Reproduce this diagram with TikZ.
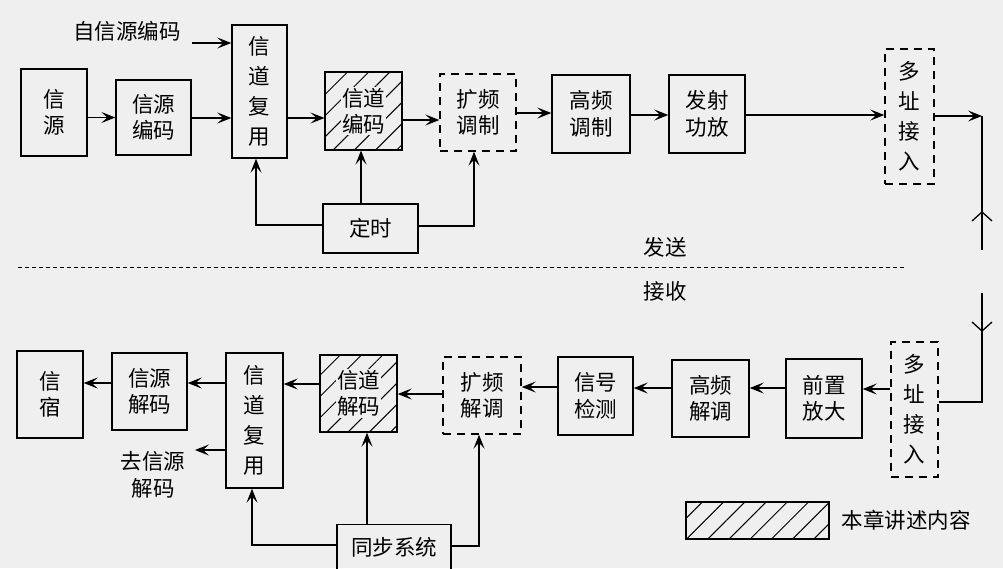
\documentclass[tikz,border=0pt]{standalone}
\usepackage{fontspec}
\setmainfont{Noto Sans CJK SC}
\usetikzlibrary{arrows.meta,patterns.meta,calc}
\definecolor{bg}{HTML}{EFEFEF}
\begin{document}
\begin{tikzpicture}[x=1pt,y=-1pt,
  font=\fontsize{21.5}{26.5}\selectfont,
  box/.style={draw, line width=1.4pt, align=center, inner sep=0pt},
  vbox/.style={box, font=\fontsize{21.5}{30}\selectfont},
  dbox/.style={box, dash pattern=on 8pt off 6pt},
  hbox/.style={box, pattern={Lines[angle=45,distance=15pt,line width=1pt]}},
  lbl/.style={fill=bg, inner sep=1pt, align=center},
  arr/.style={line width=1.2pt, -{Stealth[length=14pt,width=11pt,inset=6pt]}},
  ln/.style={line width=1.2pt},
  barb/.style={line width=1.3pt}
]
\clip (0,0) rectangle (1003,568);
\fill[bg] (0,0) rectangle (1003,568);

% ---------- transmit ----------
\node[box, minimum width=66pt, minimum height=87pt] (src) at (54,112.5) {信\\源};
\node[box, minimum width=75pt, minimum height=75pt] (srcenc) at (153.5,117.5) {信源\\编码};
\node[vbox, minimum width=55pt, minimum height=133pt] (mux) at (259.5,91.5) {信\\道\\复\\用};
\node[hbox, minimum width=77pt, minimum height=78pt] (chenc) at (363.5,111) {};
\node[lbl] (chenct) at (chenc) {信道\\编码};
\node[dbox, minimum width=76pt, minimum height=77pt] (ssmod) at (478,112.5) {扩频\\调制};
\node[box, minimum width=78pt, minimum height=78pt] (rfmod) at (591,114) {高频\\调制};
\node[box, minimum width=76pt, minimum height=78pt] (pa) at (707,114) {发射\\功放};
\node[dbox, vbox, dash pattern=on 8pt off 6pt, minimum width=49pt, minimum height=135pt] (ma1) at (909.5,116.5) {多\\址\\接\\入};
\node[box, minimum width=95pt, minimum height=49pt] (timing) at (370.5,228.5) {定时};
\node (selfsrc) at (127,31) {自信源编码};
\coordinate (selfin) at (192,43);
\coordinate (c1) at (982,116);
\coordinate (c1b) at (982,250);
\coordinate (c1m) at (982,212);

\draw[arr] (src.east |- 0,117.5) -- (srcenc.west |- 0,117.5);
\draw[arr] (srcenc.east |- 0,118) -- (mux.west |- 0,118);
\draw[arr] (selfin) -- (mux.west |- selfin);
\draw[arr] (mux.east |- 0,118) -- (chenc.west |- 0,118);
\draw[arr] (chenc.east |- 0,120) -- (ssmod.west |- 0,120);
\draw[arr] (ssmod.east |- 0,113) -- (rfmod.west |- 0,113);
\draw[arr] (rfmod.east |- 0,115) -- (pa.west |- 0,115);
\draw[arr] (pa.east |- 0,115) -- (ma1.west |- 0,115);
\draw[arr] (ma1.east |- c1) -- (c1);
\draw[ln] (c1) -- (c1b);
\draw[barb] ($(c1m)+(-10,9)$) -- (c1m) -- ($(c1m)+(10,9)$);
\draw[arr] (timing.west |- 0,225) -| (mux.south -| 256,0);
\draw[arr] (timing.north -| 361,0) -- (chenc.south -| 361,0);
\draw[arr] (timing.east |- 0,226) -| (ssmod.south -| 474,0);

\node (send) at (665,247) {发送};
\node (recv) at (665,291) {接收};
\coordinate (sepl) at (18,267);
\coordinate (sepr) at (905,267);
\draw[line width=0.8pt, dash pattern=on 4pt off 3pt] (sepl) -- (sepr);

% ---------- receive ----------
\node[box, minimum width=66pt, minimum height=87pt] (sink) at (50,394.5) {信\\宿};
\node[box, minimum width=75pt, minimum height=77pt] (srcdec) at (149.5,391.5) {信源\\解码};
\node[vbox, minimum width=57pt, minimum height=135pt] (dmux) at (254.5,420.5) {信\\道\\复\\用};
\node[hbox, minimum width=77pt, minimum height=77pt] (chdec) at (358.5,393.5) {};
\node[lbl] (chdect) at (chdec) {信道\\解码};
\node[dbox, minimum width=78pt, minimum height=77pt] (ssdem) at (482,395.5) {扩频\\解调};
\node[box, minimum width=75pt, minimum height=78pt] (det) at (595.5,396) {信号\\检测};
\node[box, minimum width=77pt, minimum height=77pt] (rfdem) at (710.5,398.5) {高频\\解调};
\node[box, minimum width=76pt, minimum height=79pt] (pre) at (824,398.5) {前置\\放大};
\node[dbox, vbox, dash pattern=on 8pt off 6pt, minimum width=47pt, minimum height=135pt] (ma2) at (914.5,409.5) {多\\址\\接\\入};
\node[box, minimum width=114pt, minimum height=52pt, anchor=north] (sync) at (394,524) {};
\node (synct) at (394,547) {同步系统};
\node[align=center] (tosrc) at (153,475) {去信源\\解码};
\coordinate (tosrcin) at (195,450);
\coordinate (c2) at (982,402);
\coordinate (c2t) at (982,293);
\coordinate (c2m) at (982,331);

\draw[arr] (dmux.west |- 0,383) -- (srcdec.east |- 0,383);
\draw[arr] (srcdec.west |- 0,383) -- (sink.east |- 0,383);
\draw[arr] (dmux.west |- tosrcin) -- (tosrcin);
\draw[arr] (chdec.west |- 0,384) -- (dmux.east |- 0,384);
\draw[arr] (ssdem.west |- 0,394) -- (chdec.east |- 0,394);
\draw[arr] (det.west |- 0,387) -- (ssdem.east |- 0,387);
\draw[arr] (rfdem.west |- 0,388) -- (det.east |- 0,388);
\draw[arr] (pre.west |- 0,388) -- (rfdem.east |- 0,388);
\draw[arr] (ma2.west |- 0,389) -- (pre.east |- 0,389);
\draw[ln] (ma2.east |- c2) -- (c2) -- (c2t);
\draw[barb] ($(c2m)+(-10,-9)$) -- (c2m) -- ($(c2m)+(10,-9)$);
\draw[arr] (sync.west |- 0,545) -| (dmux.south -| 252,0);
\draw[arr] (sync.north -| 367,0) -- (chdec.south -| 367,0);
\draw[arr] (sync.east |- 0,546) -| (ssdem.south -| 479,0);

% ---------- legend ----------
\node[hbox, minimum width=143pt, minimum height=37pt] (legend) at (757.5,520.5) {};
\node[anchor=west] (legendt) at (838,520) {本章讲述内容};
\end{tikzpicture}
\end{document}
